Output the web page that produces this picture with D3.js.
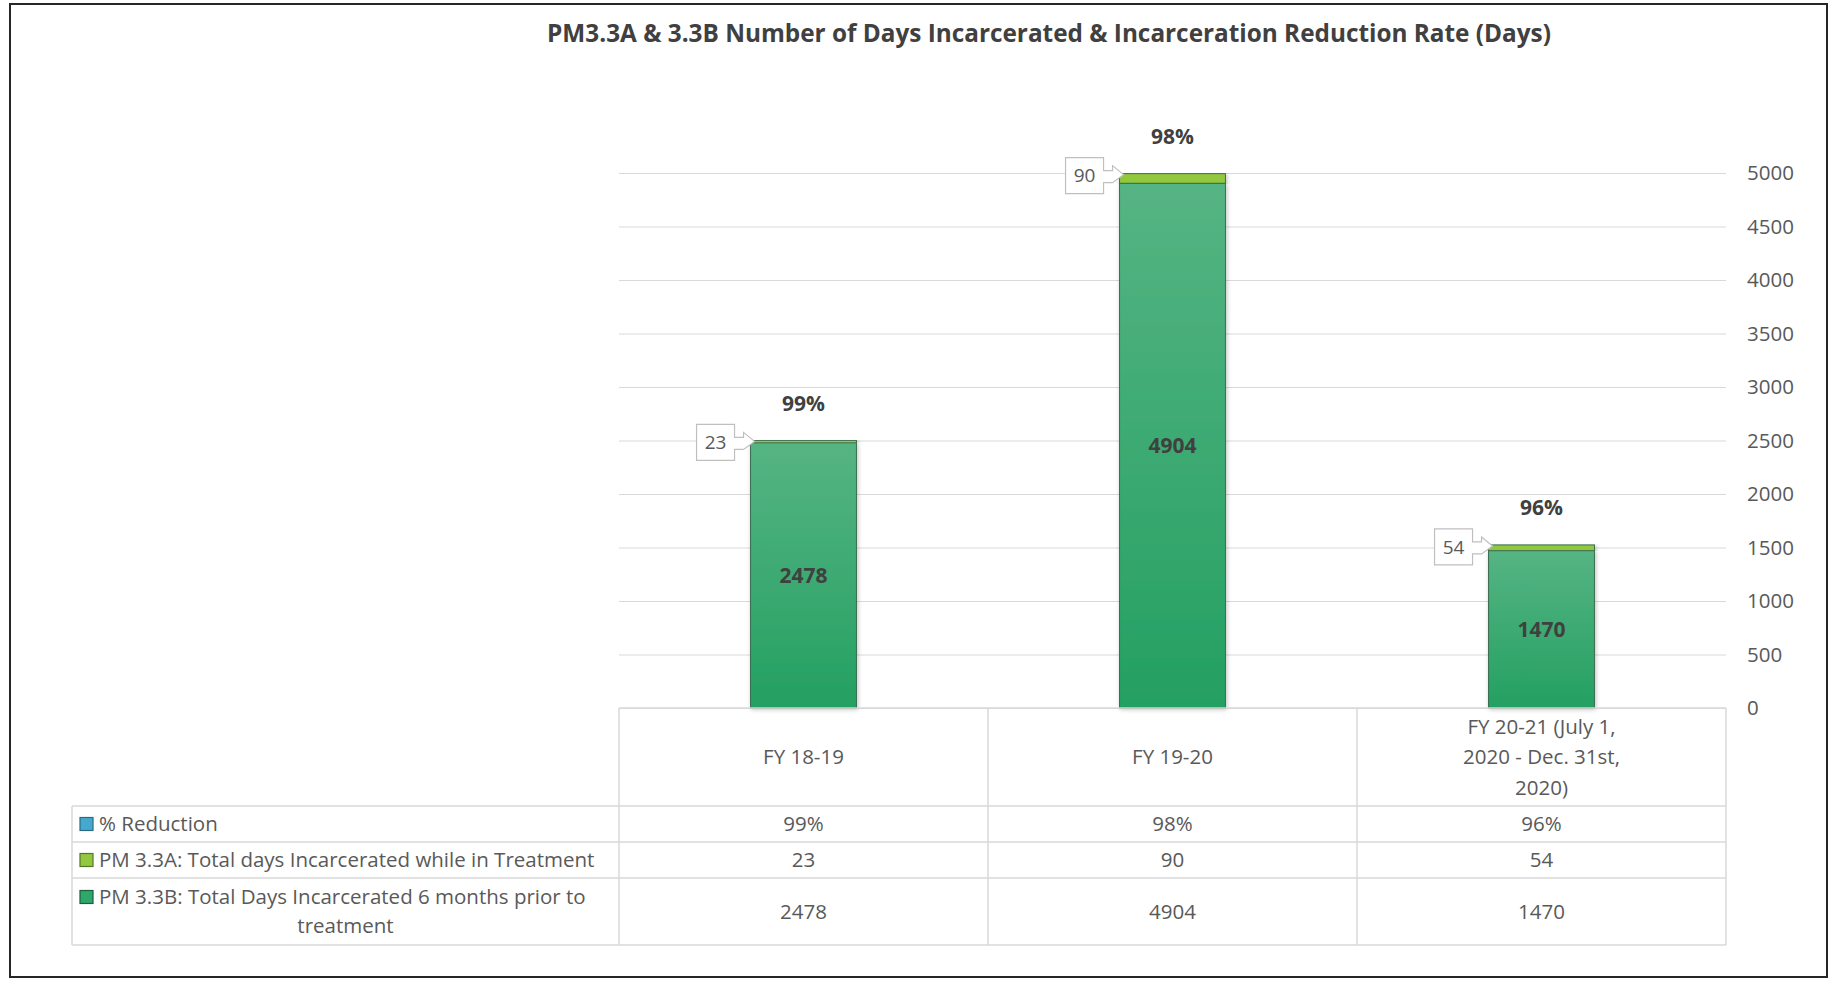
<!DOCTYPE html>
<html>
<head>
<meta charset="utf-8">
<script src="https://cdn.jsdelivr.net/npm/d3@7"></script>
<style>
  body { margin: 0; background: #fff; }
  text { font-family: 'Open Sans', sans-serif; }
</style>
</head>
<body>
<div id="chart"></div>
<script>
var categories = ["FY 18-19", "FY 19-20", "FY 20-21 (July 1, 2020 - Dec. 31st, 2020)"];
var categoryLines = [["FY 18-19"], ["FY 19-20"], ["FY 20-21 (July 1,", "2020 - Dec. 31st,", "2020)"]];
var reduction = [0.99, 0.98, 0.96];
var duringTreatment = [23, 90, 54];    // PM 3.3A
var priorTreatment = [2478, 4904, 1470]; // PM 3.3B
var yTicks = [0, 500, 1000, 1500, 2000, 2500, 3000, 3500, 4000, 4500, 5000];
var seriesNames = ["% Reduction", "PM 3.3A: Total days Incarcerated while in Treatment", "PM 3.3B: Total Days Incarcerated 6 months prior to treatment"];
var seriesColors = ["#45a9cf", "#92c83e", "#2ea86a"];

var width = 1831,
    height = 981;

var plotLeft = 619, plotRight = 1726, plotTop = 173, plotBottom = 708,
    tableLeft = 72, rowLines = [806, 842, 878, 945];

var svg = d3.select("#chart").append("svg")
    .attr("width", width)
    .attr("height", height);

var defs = svg.append("defs");
var grad = defs.append("linearGradient")
    .attr("id", "greenGrad")
    .attr("x1", 0).attr("y1", 0).attr("x2", 0).attr("y2", 1);
grad.append("stop").attr("offset", "0%").attr("stop-color", "#55b483");
grad.append("stop").attr("offset", "100%").attr("stop-color", "#24a062");

var shadow = defs.append("filter").attr("id", "shadow")
    .attr("x", "-20%").attr("y", "-5%").attr("width", "140%").attr("height", "110%");
shadow.append("feDropShadow").attr("dx", 1).attr("dy", 1).attr("stdDeviation", 2)
    .attr("flood-color", "#000").attr("flood-opacity", 0.25);

// outer frame
svg.append("rect")
    .attr("x", 10).attr("y", 4)
    .attr("width", 1817).attr("height", 973)
    .attr("fill", "none")
    .attr("stroke", "#262626")
    .attr("stroke-width", 2);

// title, fitted to its width in the reference
var title = svg.append("text")
    .attr("x", 1049)
    .attr("y", 33)
    .attr("dy", "0.35em")
    .attr("text-anchor", "middle")
    .attr("font-weight", "bold")
    .attr("font-size", 21)
    .attr("fill", "#404040")
    .text("PM3.3A & 3.3B Number of Days Incarcerated & Incarceration Reduction Rate (Days)");
var tw = title.node().getComputedTextLength();
title.attr("font-size", 21 * 1004 / tw);

var xCol = d3.scaleBand()
    .domain(categories)
    .range([plotLeft, plotRight]);

var xBar = d3.scaleBand()
    .domain(categories)
    .range([plotLeft, plotRight])
    .paddingInner(0.713)
    .paddingOuter(0.3565);

var y = d3.scaleLinear()
    .domain([0, 5000])
    .range([plotBottom, plotTop]);

// gridlines
var grid = svg.append("g")
    .attr("transform", "translate(" + plotLeft + ",0)")
    .call(d3.axisLeft(y).tickValues(yTicks).tickSize(-(plotRight - plotLeft)).tickFormat(""));
grid.select(".domain").remove();
grid.selectAll("line").attr("stroke", "#d9d9d9").attr("stroke-width", 1.2);

// right axis labels
var yAxis = svg.append("g")
    .attr("transform", "translate(" + plotRight + ",0)")
    .call(d3.axisRight(y).tickValues(yTicks).tickSize(0).tickPadding(21).tickFormat(d3.format("d")));
yAxis.select(".domain").remove();
yAxis.selectAll("text")
    .attr("font-size", 20.5)
    .attr("fill", "#595959")
    .style("font-family", "'Open Sans', sans-serif");

// stacked bars
var rows = categories.map(function(c, i) {
  return { cat: c, prior: priorTreatment[i], during: duringTreatment[i], pct: reduction[i] };
});

var stack = d3.stack().keys(["prior", "during"]);
var layers = stack(rows);
var fills = { prior: "url(#greenGrad)", during: seriesColors[1] };

svg.append("g")
  .selectAll("g")
  .data(layers)
  .enter().append("g")
    .attr("fill", function(d) { return fills[d.key]; })
  .selectAll("rect")
  .data(function(d) { return d; })
  .enter().append("rect")
    .attr("x", function(d) { return xBar(d.data.cat); })
    .attr("width", xBar.bandwidth())
    .attr("y", function(d) { return y(d[1]); })
    .attr("height", function(d) { return y(d[0]) - y(d[1]); })
    .attr("stroke", "#3b6d50")
    .attr("stroke-width", 1)
    .attr("filter", "url(#shadow)");

// 3.3B values inside the bars
svg.append("g")
  .selectAll("text")
  .data(rows)
  .enter().append("text")
    .attr("x", function(d) { return xBar(d.cat) + xBar.bandwidth() / 2; })
    .attr("y", function(d) { return y(d.prior / 2); })
    .attr("dy", "0.35em")
    .attr("text-anchor", "middle")
    .attr("font-weight", "bold")
    .attr("font-size", 21)
    .attr("fill", "#404040")
    .text(function(d) { return d.prior; });

// % reduction above the bars
svg.append("g")
  .selectAll("text")
  .data(rows)
  .enter().append("text")
    .attr("x", function(d) { return xBar(d.cat) + xBar.bandwidth() / 2; })
    .attr("y", function(d) { return y(d.prior + d.during) - 37; })
    .attr("dy", "0.35em")
    .attr("text-anchor", "middle")
    .attr("font-weight", "bold")
    .attr("font-size", 21)
    .attr("fill", "#404040")
    .text(function(d) { return d3.format(".0%")(d.pct); });

// 3.3A callouts
var callouts = svg.append("g")
  .selectAll("g")
  .data(rows)
  .enter().append("g");

callouts.append("path")
    .attr("d", function(d) {
      var bl = xBar(d.cat),
          cy = y(d.prior + d.during) + 2,
          R = bl - 16, L = R - 38, T = cy - 18, B = cy + 18, tip = bl + 4;
      return "M" + L + "," + T + "H" + R + "V" + (cy - 5) + "H" + (R + 9) + "V" + (cy - 10) +
        "L" + tip + "," + (cy - 1) + "L" + (R + 9) + "," + (cy + 7) + "H" + R + "V" + B + "H" + L + "Z";
    })
    .attr("fill", "#fff")
    .attr("stroke", "#bfbfbf")
    .attr("stroke-width", 1.2);

callouts.append("text")
    .attr("x", function(d) { return xBar(d.cat) - 35; })
    .attr("y", function(d) { return y(d.prior + d.during) + 2; })
    .attr("dy", "0.35em")
    .attr("text-anchor", "middle")
    .attr("font-size", 19)
    .attr("fill", "#595959")
    .text(function(d) { return d.during; });

// data table
var table = svg.append("g")
    .attr("stroke", "#d9d9d9")
    .attr("stroke-width", 1.5);

table.append("line")
    .attr("x1", plotLeft).attr("x2", plotRight)
    .attr("y1", plotBottom).attr("y2", plotBottom);

rowLines.forEach(function(ry) {
  table.append("line")
      .attr("x1", tableLeft).attr("x2", plotRight)
      .attr("y1", ry).attr("y2", ry);
});

categories.forEach(function(c) {
  table.append("line")
      .attr("x1", xCol(c)).attr("x2", xCol(c))
      .attr("y1", plotBottom).attr("y2", rowLines[3]);
});
table.append("line")
    .attr("x1", plotRight).attr("x2", plotRight)
    .attr("y1", plotBottom).attr("y2", rowLines[3]);
table.append("line")
    .attr("x1", tableLeft).attr("x2", tableLeft)
    .attr("y1", rowLines[0]).attr("y2", rowLines[3]);

// header cells
var header = svg.append("g")
  .selectAll("text")
  .data(categories)
  .enter().append("text")
    .attr("text-anchor", "middle")
    .attr("font-size", 20.5)
    .attr("fill", "#595959");

header.each(function(c, i) {
  var lines = categoryLines[i],
      cy = (plotBottom + rowLines[0]) / 2,
      lh = 30.5;
  d3.select(this).selectAll("tspan")
    .data(lines)
    .enter().append("tspan")
      .attr("x", xCol(c) + xCol.bandwidth() / 2)
      .attr("y", function(l, k) { return cy + (k - (lines.length - 1) / 2) * lh; })
      .attr("dy", "0.35em")
      .text(function(l) { return l; });
});

// value cells
var tableValues = [
  reduction.map(function(v) { return d3.format(".0%")(v); }),
  duringTreatment,
  priorTreatment
];

tableValues.forEach(function(vals, r) {
  var cy = (rowLines[r] + rowLines[r + 1]) / 2;
  svg.append("g")
    .selectAll("text")
    .data(vals)
    .enter().append("text")
      .attr("x", function(v, i) { return xCol(categories[i]) + xCol.bandwidth() / 2; })
      .attr("y", cy)
      .attr("dy", "0.35em")
      .attr("text-anchor", "middle")
      .attr("font-size", 20.5)
      .attr("fill", "#595959")
      .text(function(v) { return v; });
});

// legend cells
var legendCy = [(rowLines[0] + rowLines[1]) / 2, (rowLines[1] + rowLines[2]) / 2, 897];
var swatchStroke = ["#2a6a82", "#55752a", "#1d5e3d"];

seriesNames.forEach(function(name, r) {
  svg.append("rect")
      .attr("x", 80).attr("y", legendCy[r] - 6.5)
      .attr("width", 13).attr("height", 13)
      .attr("fill", seriesColors[r])
      .attr("stroke", swatchStroke[r])
      .attr("stroke-width", 1.2);
  if (r < 2) {
    svg.append("text")
        .attr("x", 99).attr("y", legendCy[r])
        .attr("dy", "0.35em")
        .attr("font-size", 20.5)
        .attr("fill", "#595959")
        .text(name);
  } else {
    svg.append("text")
        .attr("x", 99).attr("y", legendCy[r])
        .attr("dy", "0.35em")
        .attr("font-size", 20.5)
        .attr("fill", "#595959")
        .text("PM 3.3B: Total Days Incarcerated 6 months prior to");
    svg.append("text")
        .attr("x", (tableLeft + plotLeft) / 2).attr("y", 926)
        .attr("dy", "0.35em")
        .attr("text-anchor", "middle")
        .attr("font-size", 20.5)
        .attr("fill", "#595959")
        .text("treatment");
  }
});
</script>
</body>
</html>
